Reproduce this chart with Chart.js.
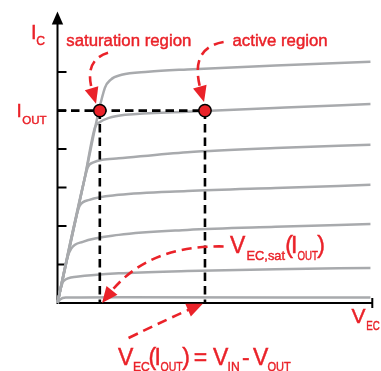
<!DOCTYPE html>
<html><head><meta charset="utf-8">
<script src="https://cdn.jsdelivr.net/npm/chart.js@4/dist/chart.umd.min.js"></script>
<style>html,body{margin:0;padding:0;background:#fff;overflow:hidden}</style>
</head><body>
<canvas id="c" width="381" height="371" style="width:381px;height:371px;display:block"></canvas>
<script>
// Collector characteristic curves (V_EC, I_C), one array per base current
const curveIb6 = [[0,0],[0.85,3.20],[1.50,5.59],[1.68,5.80],[2.03,5.93],[2.87,6.01],[4.11,6.07],[6.90,6.17],[9.91,6.27]];
const curveIb5 = [[0,0],[0.85,3.20],[1.19,4.57],[1.32,4.69],[1.63,4.81],[2.15,4.89],[4.11,4.97],[7.21,5.08],[9.91,5.17]];
const curveIb4 = [[0,0],[0.85,3.20],[0.96,3.53],[1.16,3.66],[1.41,3.72],[1.94,3.76],[4.11,3.92],[6.90,4.03],[9.91,4.11]];
const curveIb3 = [[0,0],[0.57,2.16],[0.70,2.52],[1.01,2.68],[1.94,2.81],[4.11,2.91],[6.90,2.99],[9.91,3.07]];
const curveIb2 = [[0,0],[0.31,1.17],[0.44,1.42],[0.80,1.59],[1.94,1.77],[4.11,1.90],[6.90,1.98],[9.91,2.05]];
const curveIb1 = [[0,0],[0.09,0.34],[0.19,0.57],[0.60,0.68],[1.94,0.77],[4.11,0.83],[6.90,0.88],[9.91,0.91]];
const curveIb0 = [[0,0],[0.08,0.09],[0.26,0.14],[1.94,0.15],[9.91,0.14]];
const curves = [curveIb6, curveIb5, curveIb4, curveIb3, curveIb2, curveIb1, curveIb0];

const iOut = 5;          // I_OUT level
const vecSat = 1.34;     // V_EC,sat(I_OUT)
const vecActive = 4.67;  // V_EC(I_OUT)
const yTicks = [1, 2, 3, 4, 5, 6];
const xMax = 10, yMax = 7.25;

const RED = '#ea2229', GRAY = '#a8aaad';
const FONT = '"Liberation Sans", Arial, Helvetica, sans-serif';
const toPts = a => a.map(p => ({x: p[0], y: p[1]}));

const datasets = curves.map(c => ({
  data: toPts(c), showLine: true, borderColor: GRAY, borderWidth: 2.5,
  pointRadius: 0, cubicInterpolationMode: 'monotone', fill: false, order: 3, clip: false
}));
const dashed = {showLine: true, borderColor: '#000', borderWidth: 2.6, borderDash: [8.5, 5], pointRadius: 0, order: 2, clip: false, fill: false};
datasets.push(Object.assign({data: [{x: 0, y: iOut}, {x: vecActive, y: iOut}]}, dashed));
datasets.push(Object.assign({data: [{x: vecSat, y: iOut}, {x: vecSat, y: 0}]}, dashed));
datasets.push(Object.assign({data: [{x: vecActive, y: iOut}, {x: vecActive, y: 0}]}, dashed));
datasets.push({
  data: [{x: vecSat, y: iOut}, {x: vecActive, y: iOut}], showLine: false,
  pointRadius: 6.2, pointBackgroundColor: RED, pointBorderColor: '#000', pointBorderWidth: 1.5, order: 1, clip: false
});

// annotation arrows in data units: start, control, tip
const arrows = [
  {s: [1.60, 6.50], c: [0.82, 6.31], t: [1.22, 5.18]},
  {s: [5.26, 6.78], c: [4.17, 6.63], t: [4.64, 5.22]},
  {s: [5.26, 1.47], c: [2.87, 1.51], t: [1.41, 0.0]},
  {s: [2.25, -0.91], c: [3.55, -0.39], t: [4.60, -0.02]}
];

const labels = [
  {t:'I', x:31, y:38.5, s:20}, {t:'C', x:36.3, y:44.5, s:13.5, sx:0.9},
  {t:'saturation region', x:66.3, y:46, s:16.8},
  {t:'active region', x:232.5, y:46, s:16.8},
  {t:'I', x:16.5, y:117, s:19}, {t:'OUT', x:22.2, y:123.5, s:11.5},
  {t:'V', x:230, y:253, s:23}, {t:'EC,sat', x:246.5, y:259.5, s:13.5, sx:0.95}, {t:'(', x:285.2, y:253, s:23},
  {t:'I', x:291, y:253, s:23}, {t:'OUT', x:297.5, y:259.5, s:13.5, sx:0.72}, {t:')', x:317.3, y:253, s:23},
  {t:'V', x:351.5, y:323, s:21}, {t:'EC', x:366.3, y:330, s:13.5, sx:0.72},
  {t:'V', x:118, y:365, s:23}, {t:'EC', x:133, y:370.5, s:13.5, sx:0.9}, {t:'(', x:148.5, y:365, s:23},
  {t:'I', x:154.6, y:365, s:23}, {t:'OUT', x:160.5, y:370.5, s:13.5, sx:0.78}, {t:')', x:182.3, y:365, s:23},
  {t:'=', x:193.7, y:365, s:23}, {t:'V', x:213, y:365, s:23}, {t:'IN', x:227.5, y:370.5, s:13.5, sx:0.9},
  {t:'-', x:242, y:365, s:23}, {t:'V', x:253, y:365, s:23}, {t:'OUT', x:267.5, y:370.5, s:13.5, sx:0.82}
];

const axesPlugin = {
  id: 'axes',
  beforeDatasetsDraw(chart) {
    const {ctx, chartArea: a, scales: {x, y}} = chart;
    ctx.save();
    ctx.strokeStyle = '#000'; ctx.fillStyle = '#000'; ctx.lineWidth = 2;
    ctx.beginPath();
    ctx.moveTo(a.left, a.bottom + 1); ctx.lineTo(a.left, a.top);
    ctx.moveTo(a.left - 1, a.bottom); ctx.lineTo(a.right - 1, a.bottom);
    ctx.moveTo(a.right - 1, a.bottom - 5); ctx.lineTo(a.right - 1, a.bottom + 5);
    yTicks.forEach(v => { const py = y.getPixelForValue(v); ctx.moveTo(a.left, py); ctx.lineTo(a.left + 9, py); });
    ctx.stroke();
    ctx.beginPath();
    ctx.moveTo(a.left, a.top - 12.5); ctx.lineTo(a.left - 5.7, a.top + 0.5); ctx.lineTo(a.left + 5.7, a.top + 0.5);
    ctx.closePath(); ctx.fill();
    ctx.restore();
  },
  afterDraw(chart) {
    const {ctx, scales: {x, y}} = chart;
    const P = p => [x.getPixelForValue(p[0]), y.getPixelForValue(p[1])];
    ctx.save();
    arrows.forEach(ar => {
      const s = P(ar.s), c = P(ar.c), t = P(ar.t);
      const dx = t[0] - c[0], dy = t[1] - c[1], d = Math.hypot(dx, dy);
      const ux = dx / d, uy = dy / d, len = 16, hw = 7;
      const bx = t[0] - ux * len, by = t[1] - uy * len;
      ctx.strokeStyle = RED; ctx.lineWidth = 2.6; ctx.setLineDash([10, 6]);
      ctx.beginPath(); ctx.moveTo(s[0], s[1]);
      ctx.quadraticCurveTo(c[0], c[1], bx + ux * 3, by + uy * 3); ctx.stroke();
      ctx.setLineDash([]); ctx.fillStyle = RED;
      ctx.beginPath(); ctx.moveTo(t[0], t[1]);
      ctx.lineTo(bx - uy * hw, by + ux * hw); ctx.lineTo(bx + uy * hw, by - ux * hw);
      ctx.closePath(); ctx.fill();
    });
    ctx.fillStyle = RED; ctx.strokeStyle = RED; ctx.lineWidth = 0.45;
    ctx.textBaseline = 'alphabetic'; ctx.textAlign = 'left';
    labels.forEach(l => {
      ctx.save();
      ctx.translate(l.x, l.y);
      ctx.scale(l.sx || 1, 1);
      ctx.font = l.s + 'px ' + FONT;
      ctx.fillText(l.t, 0, 0);
      ctx.strokeText(l.t, 0, 0);
      ctx.restore();
    });
    ctx.restore();
  }
};

new Chart(document.getElementById('c'), {
  type: 'scatter',
  data: {datasets},
  options: {
    responsive: false, animation: false, devicePixelRatio: 1,
    layout: {padding: {left: 57.5, right: 1, top: 24, bottom: 68}},
    scales: {
      x: {type: 'linear', min: 0, max: xMax, display: false},
      y: {type: 'linear', min: 0, max: yMax, display: false}
    },
    plugins: {legend: {display: false}, tooltip: {enabled: false}}
  },
  plugins: [axesPlugin]
});
</script>
</body></html>
